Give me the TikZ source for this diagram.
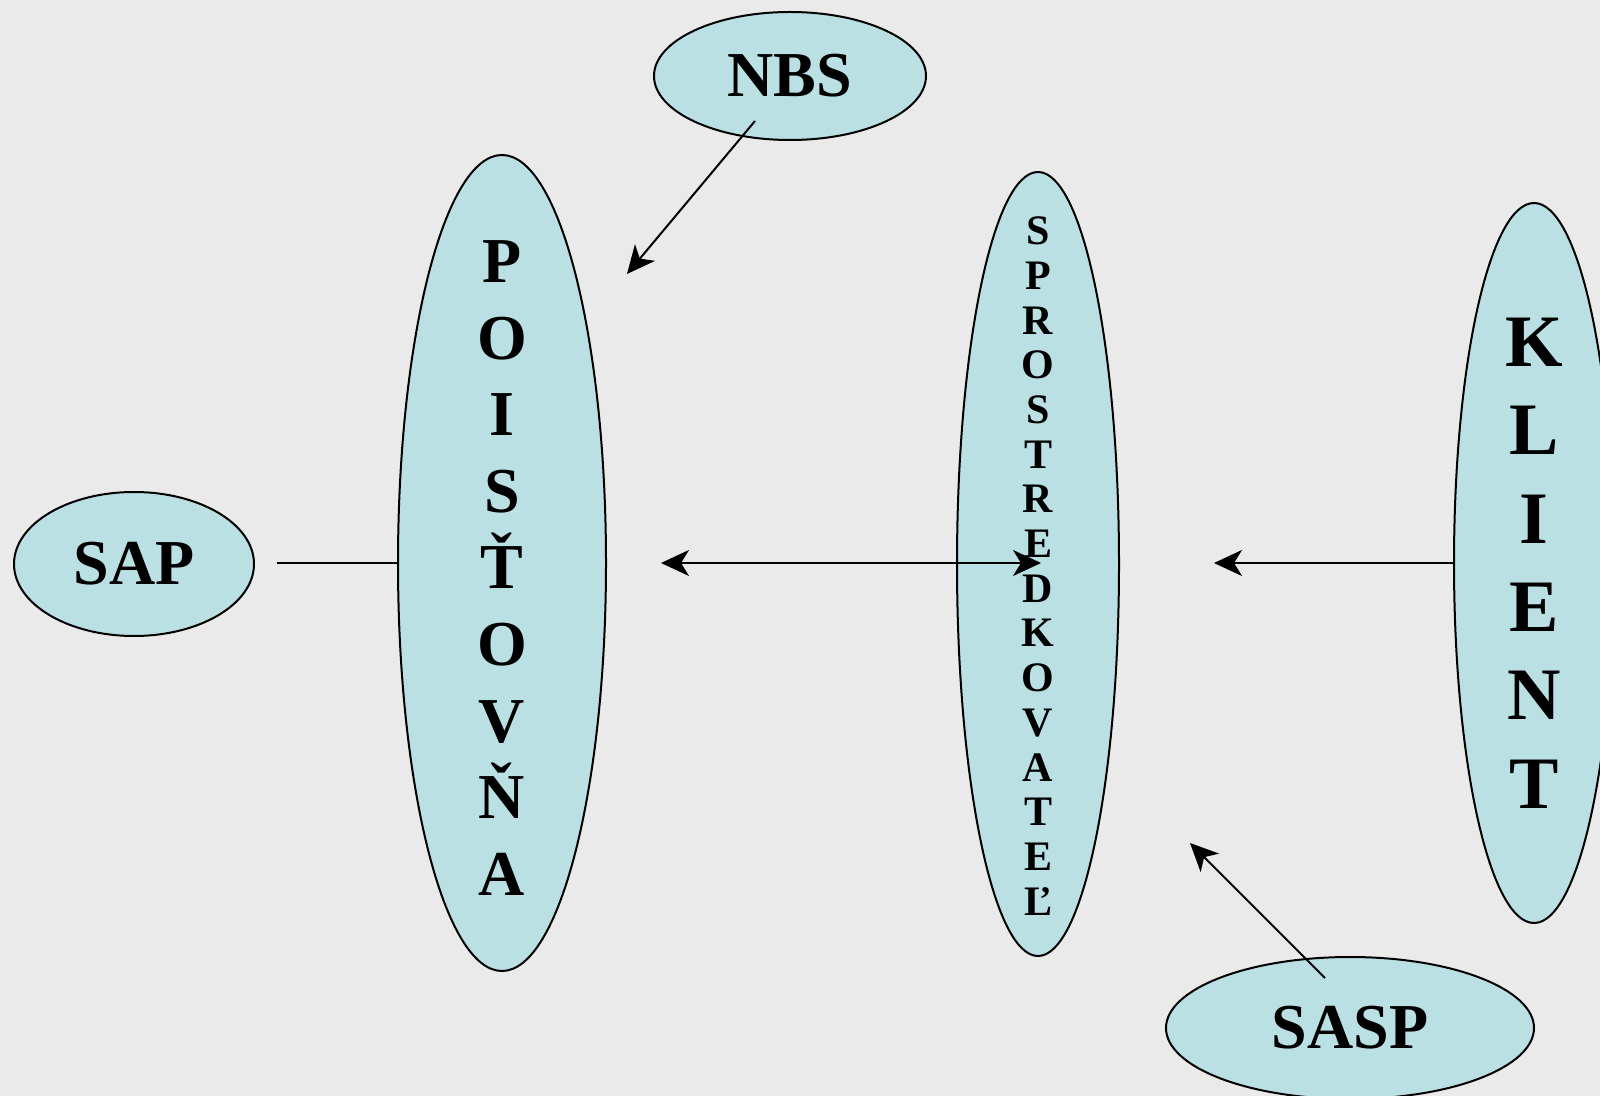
\documentclass[tikz,border=0pt]{standalone}
\usepackage{fontspec}
\setmainfont{Liberation Serif}
\usetikzlibrary{arrows.meta,shapes.geometric}

\definecolor{paper}{RGB}{234,234,234}
\definecolor{ovalfill}{RGB}{187,224,227}

\tikzset{
  blob/.style={ellipse, draw, line width=1pt, fill=ovalfill, inner sep=0pt},
  big/.style={font=\bfseries\fontsize{32}{38.3}\selectfont, align=center, inner sep=0pt},
}

\begin{document}
\begin{tikzpicture}[x=0.5pt, y=-0.5pt, >={Stealth[length=14pt,width=13pt,inset=4pt]}]

  \useasboundingbox[fill=paper] (0,0) rectangle (1600,1096);
  \clip (0,0) rectangle (1600,1096);

  \node[blob, minimum width=136pt, minimum height=64pt] (nbs) at (790,76) {};
  \node[blob, minimum width=104pt, minimum height=408pt] (poi) at (502,563) {};
  \node[blob, minimum width=120pt, minimum height=72pt] (sap) at (134,564) {};
  \node[blob, minimum width=81pt, minimum height=392pt] (spr) at (1038,564) {};
  \node[blob, minimum width=80pt, minimum height=360pt] (kli) at (1534,563) {};
  \node[blob, minimum width=184pt, minimum height=71pt] (sasp) at (1350,1028) {};

  \node[big] at (nbs) {NBS};
  \node[big] at (sap) {SAP};
  \node[big] at (sasp) {SASP};
  \node[big] at ([yshift=-2.5pt]poi.center) {P\\O\\I\\S\\Ť\\O\\V\\Ň\\A};
  \node[big, font=\bfseries\fontsize{37}{44.2}\selectfont] at (kli) {K\\L\\I\\E\\N\\T};
  \node[big, font=\bfseries\fontsize{21}{22.35}\selectfont] at ([yshift=-1pt]spr.center)
    {S\\P\\R\\O\\S\\T\\R\\E\\D\\K\\O\\V\\A\\T\\E\\Ľ};

  \coordinate (nbsout) at (755,121);
  \coordinate (nbsin) at (627,274);
  \coordinate (sapend) at (277,563);
  \coordinate (midl) at (661,563);
  \coordinate (midr) at (1041,563);
  \coordinate (kliin) at (1214,563);
  \coordinate (saspout) at (1325,978);
  \coordinate (saspin) at (1190,843);

  \draw[->, line width=1pt] (nbsout) -- (nbsin);
  \draw[line width=1pt] (sapend) -- (poi.west);
  \draw[<->, line width=1pt] (midl) -- (midr);
  \draw[->, line width=1pt] (kli.west) -- (kliin);
  \draw[->, line width=1pt] (saspout) -- (saspin);

\end{tikzpicture}
\end{document}
